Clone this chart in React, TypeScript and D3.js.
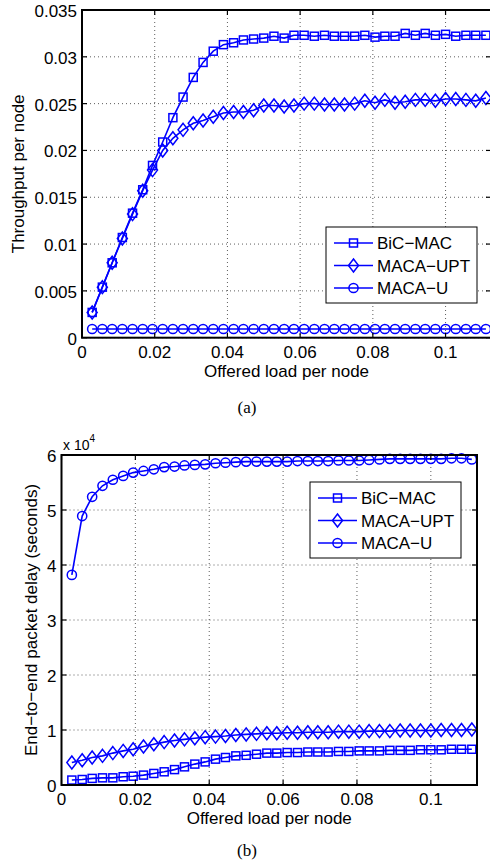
import React, { useEffect, useRef } from 'react';
import * as d3 from 'd3';

// offered load per node (x for every series)
const offeredLoad = [
  0.0028, 0.0056, 0.0083, 0.0111, 0.0139, 0.0167, 0.0194, 0.0222, 0.025, 0.0278,
  0.0306, 0.0333, 0.0361, 0.0389, 0.0417, 0.0444, 0.0472, 0.05, 0.0528, 0.0556,
  0.0583, 0.0611, 0.0639, 0.0667, 0.0694, 0.0722, 0.075, 0.0778, 0.0806, 0.0833,
  0.0861, 0.0889, 0.0917, 0.0944, 0.0972, 0.1, 0.1028, 0.1056, 0.1083, 0.1111,
];

// (a) throughput per node
const thrBicMac = [
  0.0027, 0.0054, 0.008, 0.0107, 0.0133, 0.0158, 0.0184, 0.0209, 0.0235, 0.0257,
  0.0278, 0.0294, 0.0306, 0.0313, 0.0315, 0.0318, 0.0319, 0.032, 0.0322, 0.032,
  0.0323, 0.0323, 0.0322, 0.0323, 0.0322, 0.0322, 0.0322, 0.0323, 0.0321, 0.0322,
  0.0322, 0.0325, 0.0323, 0.0325, 0.0323, 0.0324, 0.0322, 0.0323, 0.0323, 0.0323,
];
const thrMacaUpt = [
  0.0027, 0.0054, 0.008, 0.0106, 0.0132, 0.0157, 0.0179, 0.02, 0.0213, 0.0222,
  0.0229, 0.0232, 0.0236, 0.024, 0.0241, 0.0241, 0.0243, 0.0248, 0.0248, 0.0247,
  0.0248, 0.025, 0.025, 0.0249, 0.0249, 0.0249, 0.025, 0.0253, 0.0251, 0.0254,
  0.0251, 0.0252, 0.0254, 0.0254, 0.0253, 0.0255, 0.0255, 0.0254, 0.0253, 0.0256,
];
const thrMacaU = [
  0.00093, 0.00093, 0.00093, 0.00093, 0.00093, 0.00093, 0.00093, 0.00093, 0.00093, 0.00093,
  0.00093, 0.00093, 0.00093, 0.00093, 0.00093, 0.00093, 0.00093, 0.00093, 0.00093, 0.00093,
  0.00093, 0.00093, 0.00093, 0.00093, 0.00093, 0.00093, 0.00093, 0.00093, 0.00093, 0.00093,
  0.00093, 0.00093, 0.00093, 0.00093, 0.00093, 0.00093, 0.00093, 0.00093, 0.00093, 0.00093,
];

// (b) end-to-end packet delay, in units of 10^4 seconds
const delBicMac = [
  0.09, 0.1, 0.12, 0.13, 0.13, 0.15, 0.16, 0.18, 0.21, 0.24,
  0.28, 0.33, 0.38, 0.42, 0.47, 0.5, 0.53, 0.54, 0.56, 0.58,
  0.58, 0.59, 0.59, 0.6, 0.6, 0.6, 0.61, 0.61, 0.62, 0.62,
  0.62, 0.63, 0.63, 0.63, 0.64, 0.64, 0.64, 0.65, 0.65, 0.65,
];
const delMacaUpt = [
  0.41, 0.45, 0.5, 0.53, 0.58, 0.62, 0.65, 0.7, 0.74, 0.78,
  0.81, 0.83, 0.85, 0.87, 0.88, 0.89, 0.91, 0.92, 0.93, 0.94,
  0.94, 0.95, 0.95, 0.96, 0.96, 0.96, 0.97, 0.97, 0.97, 0.98,
  0.98, 0.98, 0.99, 0.99, 0.99, 0.99, 1.0, 1.0, 1.0, 1.01,
];
const delMacaU = [
  3.82, 4.89, 5.24, 5.44, 5.55, 5.62, 5.68, 5.71, 5.74, 5.78,
  5.79, 5.81, 5.82, 5.83, 5.85, 5.86, 5.87, 5.88, 5.88, 5.88,
  5.88, 5.88, 5.89, 5.89, 5.89, 5.89, 5.9, 5.9, 5.9, 5.91,
  5.92, 5.93, 5.93, 5.93, 5.93, 5.93, 5.93, 5.94, 5.94, 5.92,
];

const seriesNames = ['BiC\u2212MAC', 'MACA\u2212UPT', 'MACA\u2212U'];
const markerShapes = ['square', 'diamond', 'circle'];

const xTicks = [0, 0.02, 0.04, 0.06, 0.08, 0.1];
const thrTicks = [0, 0.005, 0.01, 0.015, 0.02, 0.025, 0.03, 0.035];
const delTicks = [0, 1, 2, 3, 4, 5, 6];

const blue = '#0000ff';
const font = '"Liberation Sans", Arial, Helvetica, sans-serif';

const drawMarker = (g, shape, cx, cy) => {
  if (shape === 'square') {
    g.append('rect').attr('x', cx - 4).attr('y', cy - 4).attr('width', 8).attr('height', 8)
      .attr('fill', 'none').attr('stroke', blue).attr('stroke-width', 1.5);
  } else if (shape === 'diamond') {
    g.append('path')
      .attr('d', `M${cx},${cy - 6.5}L${cx + 5},${cy}L${cx},${cy + 6.5}L${cx - 5},${cy}Z`)
      .attr('fill', 'none').attr('stroke', blue).attr('stroke-width', 1.5);
  } else {
    g.append('circle').attr('cx', cx).attr('cy', cy).attr('r', 4.6)
      .attr('fill', 'none').attr('stroke', blue).attr('stroke-width', 1.5);
  }
};

const drawPanel = (svg, p) => {
  const x = d3.scaleLinear().domain([0, 0.1125]).range([p.left, p.right]);
  const y = d3.scaleLinear().domain(p.yDomain).range([p.bottom, p.top]);
  const g = svg.append('g');

  // grid
  xTicks.forEach(t => {
    g.append('line').attr('x1', x(t)).attr('x2', x(t)).attr('y1', p.top).attr('y2', p.bottom)
      .attr('stroke', '#333').attr('stroke-width', 0.8).attr('stroke-dasharray', '1,3');
  });
  p.yTicks.forEach(t => {
    g.append('line').attr('x1', p.left).attr('x2', p.right).attr('y1', y(t)).attr('y2', y(t))
      .attr('stroke', '#333').attr('stroke-width', 0.8).attr('stroke-dasharray', '1,3');
  });

  // series
  const line = d3.line().x((d) => x(d[0])).y((d) => y(d[1]));
  const plot = g.append('g');
  p.series.forEach((vals, si) => {
    const pts = offeredLoad.map((xv, i) => [xv, vals[i]]);
    plot.append('path').attr('d', line(pts)).attr('fill', 'none')
      .attr('stroke', blue).attr('stroke-width', 1.6);
    pts.forEach(d => drawMarker(plot, markerShapes[si], x(d[0]), y(d[1])));
  });

  // box and ticks
  g.append('rect').attr('x', p.left).attr('y', p.top)
    .attr('width', p.right - p.left).attr('height', p.bottom - p.top)
    .attr('fill', 'none').attr('stroke', '#000').attr('stroke-width', 2);
  xTicks.forEach(t => {
    g.append('line').attr('x1', x(t)).attr('x2', x(t)).attr('y1', p.bottom).attr('y2', p.bottom - 5)
      .attr('stroke', '#000').attr('stroke-width', 1.2);
    g.append('line').attr('x1', x(t)).attr('x2', x(t)).attr('y1', p.top).attr('y2', p.top + 5)
      .attr('stroke', '#000').attr('stroke-width', 1.2);
    g.append('text').attr('x', x(t)).attr('y', p.bottom + 20).attr('text-anchor', 'middle')
      .attr('font-family', font).attr('font-size', 17).text(d3.format('~g')(t));
  });
  p.yTicks.forEach(t => {
    g.append('line').attr('x1', p.left).attr('x2', p.left + 5).attr('y1', y(t)).attr('y2', y(t))
      .attr('stroke', '#000').attr('stroke-width', 1.2);
    g.append('line').attr('x1', p.right).attr('x2', p.right - 5).attr('y1', y(t)).attr('y2', y(t))
      .attr('stroke', '#000').attr('stroke-width', 1.2);
    g.append('text').attr('x', p.left - 5).attr('y', y(t) + 7).attr('text-anchor', 'end')
      .attr('font-family', font).attr('font-size', 17).text(d3.format('~g')(t));
  });

  // labels
  g.append('text').attr('x', (p.left + p.right) / 2).attr('y', p.bottom + 39)
    .attr('text-anchor', 'middle').attr('font-family', font).attr('font-size', 17)
    .text('Offered load per node');
  g.append('text')
    .attr('transform', `translate(${p.yLabelX},${(p.top + p.bottom) / 2}) rotate(-90)`)
    .attr('text-anchor', 'middle').attr('font-family', font).attr('font-size', 17)
    .text(p.yLabel);
  g.append('text').attr('x', 247).attr('y', p.captionY)
    .attr('text-anchor', 'middle').attr('font-family', '"Liberation Serif", "Times New Roman", serif')
    .attr('font-size', 17).text(p.caption);

  // legend
  const lg = g.append('g');
  lg.append('rect').attr('x', p.legend[0]).attr('y', p.legend[1]).attr('width', 151).attr('height', 76)
    .attr('fill', '#fff').attr('stroke', '#000').attr('stroke-width', 1);
  seriesNames.forEach((name, i) => {
    const ly = p.legend[1] + 16 + i * 22.5;
    const lx = p.legend[0] + 8;
    lg.append('line').attr('x1', lx).attr('x2', lx + 39).attr('y1', ly).attr('y2', ly)
      .attr('stroke', blue).attr('stroke-width', 1.6);
    drawMarker(lg, markerShapes[i], lx + 19.5, ly);
    lg.append('text').attr('x', lx + 43).attr('y', ly + 6).attr('font-family', font)
      .attr('font-size', 17).text(name);
  });
  return g;
};

const App = () => {
  const chartRef = useRef(null);

  useEffect(() => {
    const svg = d3.select(chartRef.current);
    svg.selectAll('*').remove();

    drawPanel(svg, {
      left: 82, right: 491, top: 10, bottom: 337.7,
      yDomain: [0, 0.035], yTicks: thrTicks,
      series: [thrBicMac, thrMacaUpt, thrMacaU],
      yLabel: 'Throughput per node', yLabelX: 24,
      caption: '(a)', captionY: 413,
      legend: [326, 227],
    });

    const b = drawPanel(svg, {
      left: 61.5, right: 477, top: 455, bottom: 785,
      yDomain: [0, 6], yTicks: delTicks,
      series: [delBicMac, delMacaUpt, delMacaU],
      yLabel: 'End\u2212to\u2212end packet delay (seconds)', yLabelX: 37,
      caption: '(b)', captionY: 856,
      legend: [310, 482],
    });

    const exp = b.append('text').attr('x', 63).attr('y', 450).attr('font-family', font).attr('font-size', 14);
    exp.append('tspan').text('x 10');
    exp.append('tspan').attr('dy', -8).attr('font-size', 10).text('4');

    return () => {
      svg.selectAll('*').remove();
    };
  }, []);

  return (
    <svg ref={chartRef} width={490} height={867}
      style={{ position: 'absolute', left: 0, top: 0, background: '#fff' }} />
  );
};

export default App;
